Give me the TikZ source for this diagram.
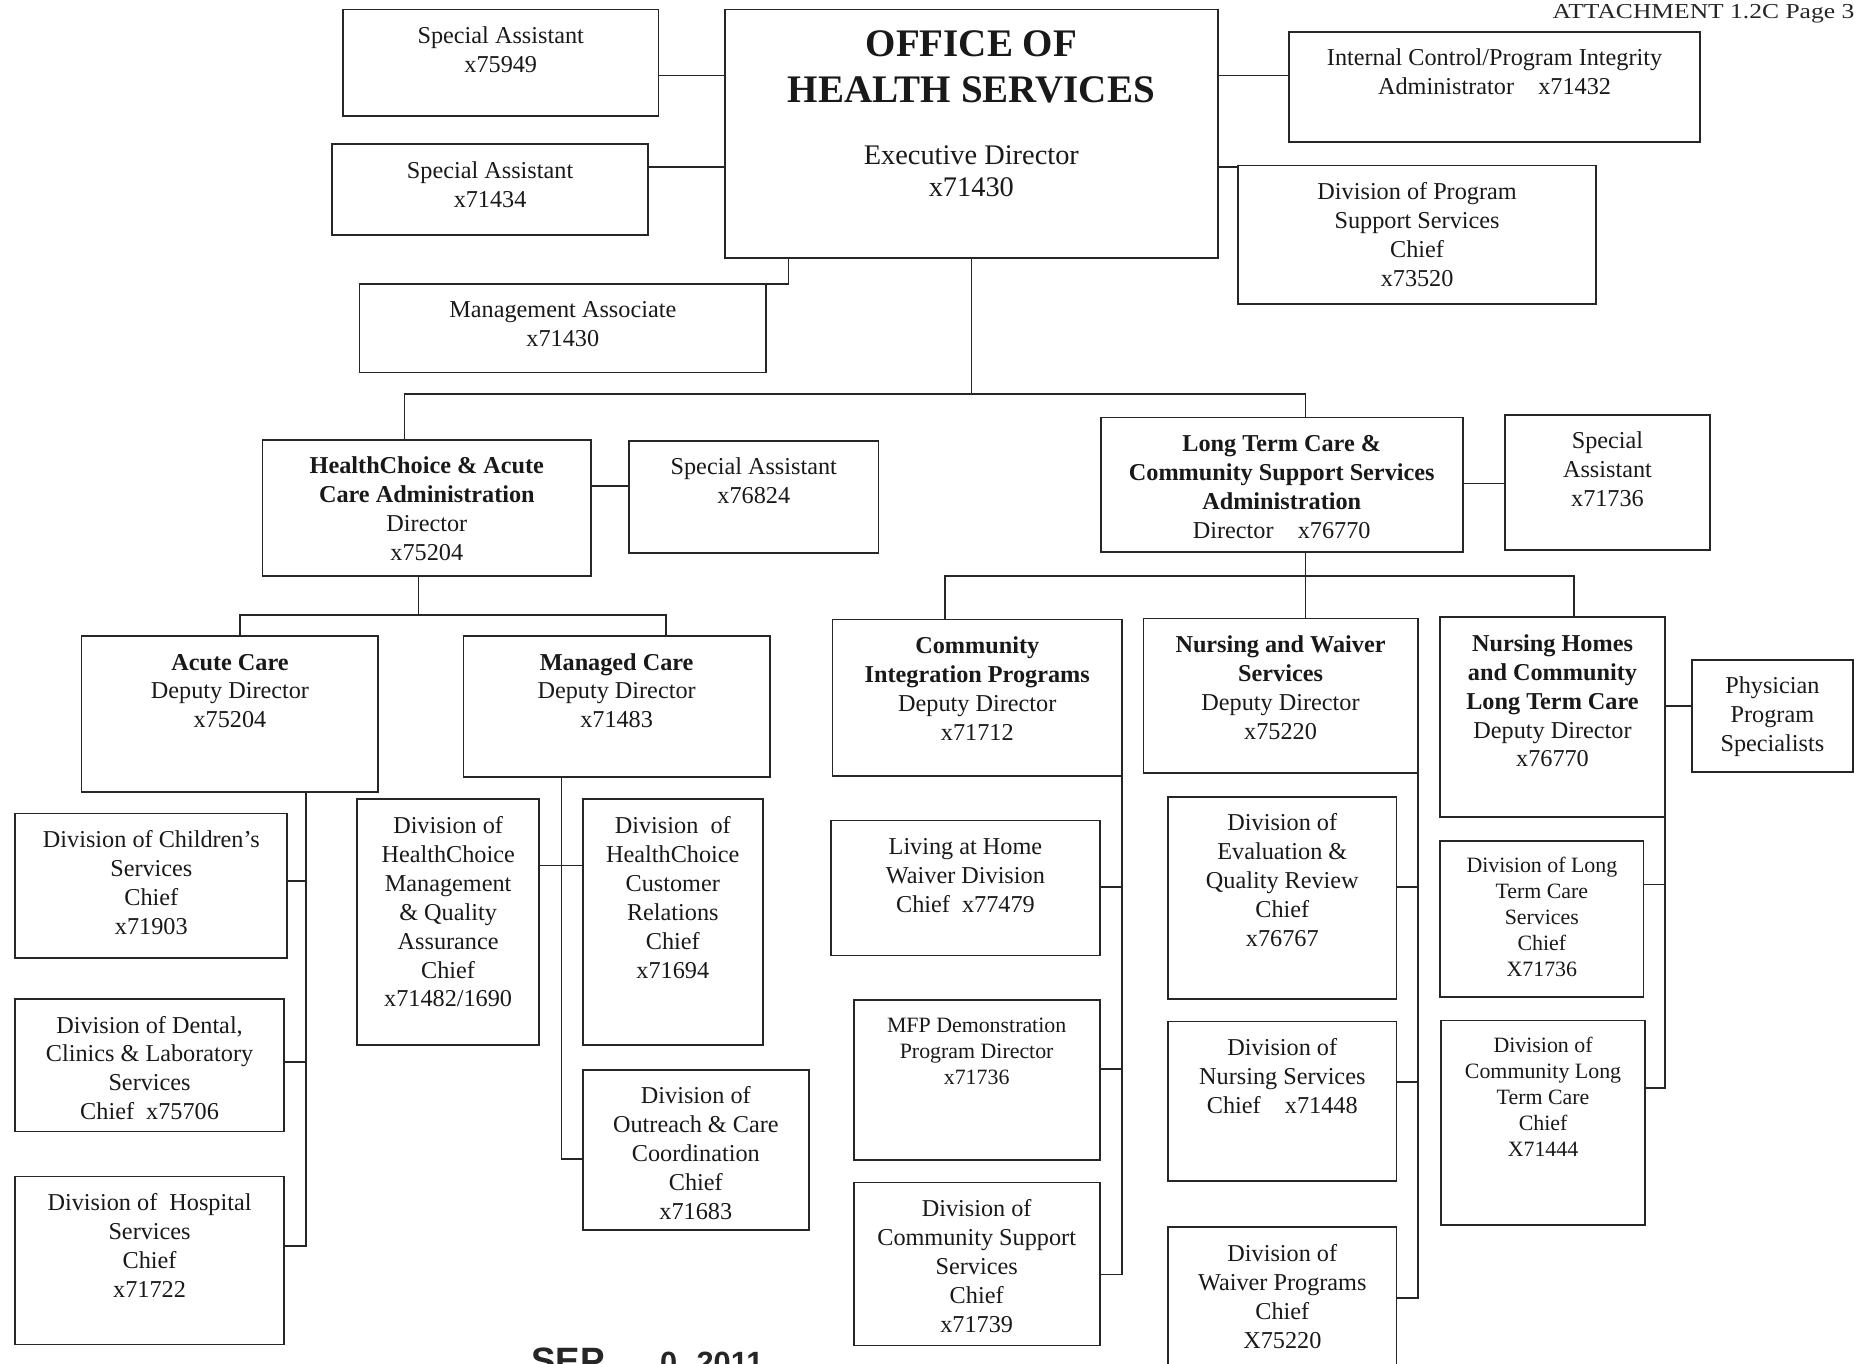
\documentclass[tikz,border=0pt]{standalone}
\usepackage{fontspec}
\setmainfont{Liberation Serif}
\newfontfamily\stampfont{Liberation Sans}

% \orgunit[node options]{name}{left}{top}{right}{bottom}{lines}
\newcommand{\orgunit}[7][]{%
  \pgfmathsetlengthmacro{\unitw}{#5-#3}%
  \pgfmathsetlengthmacro{\unith}{#6-#4}%
  \node[unitbox,#1] (#2) at (#3,#4)
    {\parbox[t][\unith][t]{\unitw}{\vspace*{11.5pt}\centering\strut #7\par}};%
}

\begin{document}
\begin{tikzpicture}[x=1pt,y=-1pt,
  unitbox/.style={draw=black!85, line width=1.5pt, inner sep=0pt, outer sep=0pt,
    anchor=north west, text=black!90, font=\fontsize{20.5}{24.5}\selectfont},
  smallunit/.style={font=\fontsize{18.5}{22}\selectfont},
  link/.style={draw=black!85, line width=1.4pt}]
\clip (0,0) rectangle (1568,1153);
\fill[white] (0,0) rectangle (1568,1153);

% page header and date stamp
\node[anchor=base west, inner sep=0pt, text=black!85, font=\fontsize{18}{18}\selectfont]
  (hdr) at (1313,15.5) {\scalebox{1.2}[1]{ATTACHMENT 1.2C Page 3}};
\node[anchor=base west, inner sep=0pt, text=black!85,
  font=\stampfont\bfseries\fontsize{31}{31}\selectfont]
  (stamp) at (449,1162) {SEP\hspace{47pt}{\fontsize{26}{26}\selectfont 0\hspace{16.5pt}2011}};

% executive office
\node[unitbox] (ohs) at (613,8)
  {\parbox[t][210pt][t]{417pt}{\centering\vspace*{12.7pt}%
    {\fontsize{33}{39}\selectfont\bfseries\strut OFFICE OF\\HEALTH SERVICES\par}%
    \vspace{25pt}%
    {\fontsize{24}{27}\selectfont Executive Director\\x71430\par}}};

\orgunit{sa1}{290}{8}{557}{98}{Special Assistant\\x75949}
\orgunit{sa2}{281}{122}{548}{199}{Special Assistant\\x71434}
\orgunit{ma}{304}{240}{648}{315}{Management Associate\\x71430}
\orgunit{icpi}{1090}{27}{1438}{120}{Internal Control/Program Integrity\\Administrator\quad x71432}
\orgunit{dpss}{1047}{140}{1350}{257}{Division of Program\\Support Services\\Chief\\x73520}

% administrations
\orgunit{hca}{222}{372}{500}{487}{\textbf{HealthChoice \& Acute}\\\textbf{Care Administration}\\Director\\x75204}
\orgunit{sa3}{532}{373}{743}{468}{Special Assistant\\x76824}
\orgunit{ltc}{931}{353}{1237}{467}{\textbf{Long Term Care \&}\\\textbf{Community Support Services}\\\textbf{Administration}\\Director\quad x76770}
\orgunit{sa4}{1273}{351}{1446}{465}{Special\\Assistant\\x71736}

% deputy directors
\orgunit{ac}{69}{538}{320}{670}{\textbf{Acute Care}\\Deputy Director\\x75204}
\orgunit{mc}{392}{538}{651}{657}{\textbf{Managed Care}\\Deputy Director\\x71483}
\orgunit{cip}{704}{524}{949}{656}{\textbf{Community}\\\textbf{Integration Programs}\\Deputy Director\\x71712}
\orgunit{nws}{967}{523}{1199}{654}{\textbf{Nursing and Waiver}\\\textbf{Services}\\Deputy Director\\x75220}
\orgunit{nh}{1218}{522}{1408}{691}{\textbf{Nursing Homes}\\\textbf{and Community}\\\textbf{Long Term Care}\\Deputy Director\\x76770}
\orgunit{pps}{1431}{558}{1567}{653}{Physician\\Program\\Specialists}

% divisions under Acute Care
\orgunit{dcs}{13}{688}{243}{810}{Division of Children’s\\Services\\Chief\\x71903}
\orgunit{ddcl}{13}{845}{240}{957}{Division of Dental,\\Clinics \& Laboratory\\Services\\Chief~ x75706}
\orgunit{dhs}{13}{995}{240}{1137}{Division of~ Hospital\\Services\\Chief\\x71722}

% divisions under Managed Care
\orgunit{dhmq}{302}{676}{456}{884}{Division of\\HealthChoice\\Management\\\& Quality\\Assurance\\Chief\\x71482/1690}
\orgunit{dhcr}{493}{676}{645}{884}{Division~ of\\HealthChoice\\Customer\\Relations\\Chief\\x71694}
\orgunit{docc}{493}{905}{684}{1040}{Division of\\Outreach \& Care\\Coordination\\Chief\\x71683}

% divisions under Community Integration Programs
\orgunit{lah}{703}{694}{930}{808}{Living at Home\\Waiver Division\\Chief~ x77479}
\orgunit[smallunit]{mfp}{722}{846}{930}{981}{MFP Demonstration\\Program Director\\x71736}
\orgunit{dcss}{722}{1000}{930}{1138}{Division of\\Community Support\\Services\\Chief\\x71739}

% divisions under Nursing and Waiver Services
\orgunit{deqr}{988}{674}{1181}{845}{Division of\\Evaluation \&\\Quality Review\\Chief\\x76767}
\orgunit{dns}{988}{864}{1181}{999}{Division of\\Nursing Services\\Chief\quad x71448}
\orgunit{dwp}{988}{1038}{1181}{1170}{Division of\\Waiver Programs\\Chief\\X75220}

% divisions under Nursing Homes and Community Long Term Care
\orgunit[smallunit]{dltcs}{1218}{711}{1390}{843}{Division of Long\\Term Care\\Services\\Chief\\X71736}
\orgunit[smallunit]{dcltc}{1219}{863}{1391}{1036}{Division of\\Community Long\\Term Care\\Chief\\X71444}

% ---- connectors ----
% executive staff
\draw[link] (sa1.east |- 0,64) -- (ohs.west |- 0,64);
\draw[link] (sa2.east |- 0,141) -- (ohs.west |- 0,141);
\draw[link] (ohs.east |- 0,64) -- (icpi.west |- 0,64);
\draw[link] (ohs.east |- 0,141) -- (dpss.west |- 0,141);
\draw[link] (ohs.south -| 667,0) |- (ma.north east);

% executive office to the two administrations
\coordinate (busL) at (342,333);
\coordinate (busR) at (1104,333);
\draw[link] (ohs.south) -- (ohs.south |- busL);
\draw[link] (hca.north -| busL) |- (busR) -- (ltc.north -| busR);
\draw[link] (hca.east |- 0,411) -- (sa3.west |- 0,411);
\draw[link] (ltc.east |- 0,409) -- (sa4.west |- 0,409);

% HealthChoice & Acute Care deputies
\coordinate (hcaBus) at (354,520);
\draw[link] (hca.south -| hcaBus) -- (hcaBus);
\draw[link] (ac.north -| 203,0) |- (563,520) -- (mc.north -| 563,0);

% Long Term Care deputies
\coordinate (ltcBus) at (1104,487);
\draw[link] (ltc.south -| ltcBus) -- (ltcBus);
\draw[link] (cip.north -| 799,0) |- (1331,487) -- (nh.north -| 1331,0);
\draw[link] (ltcBus) -- (nws.north -| ltcBus);

% Acute Care divisions
\coordinate (acSpine) at (259,1054);
\draw[link] (ac.south -| acSpine) -- (acSpine) -- (dhs.east |- acSpine);
\draw[link] (dcs.east |- 0,745) -- (259,745);
\draw[link] (ddcl.east |- 0,898) -- (259,898);

% Managed Care divisions
\coordinate (mcSpine) at (475,980);
\draw[link] (mc.south -| mcSpine) |- (docc.west |- mcSpine);
\draw[link] (dhmq.east |- 0,732) -- (dhcr.west |- 0,732);

% Community Integration Programs divisions
\draw[link] (cip.south east) |- (dcss.east |- 0,1078);
\draw[link] (lah.east |- 0,750) -- (cip.east |- 0,750);
\draw[link] (mfp.east |- 0,904) -- (cip.east |- 0,904);

% Nursing and Waiver Services divisions
\draw[link] (nws.south east) |- (dwp.east |- 0,1098);
\draw[link] (deqr.east |- 0,750) -- (nws.east |- 0,750);
\draw[link] (dns.east |- 0,915) -- (nws.east |- 0,915);

% Nursing Homes and Community Long Term Care divisions
\draw[link] (nh.south east) |- (dcltc.east |- 0,920);
\draw[link] (dltcs.east |- 0,748) -- (nh.east |- 0,748);
\draw[link] (nh.east |- 0,597) -- (pps.west |- 0,597);
\end{tikzpicture}
\end{document}
